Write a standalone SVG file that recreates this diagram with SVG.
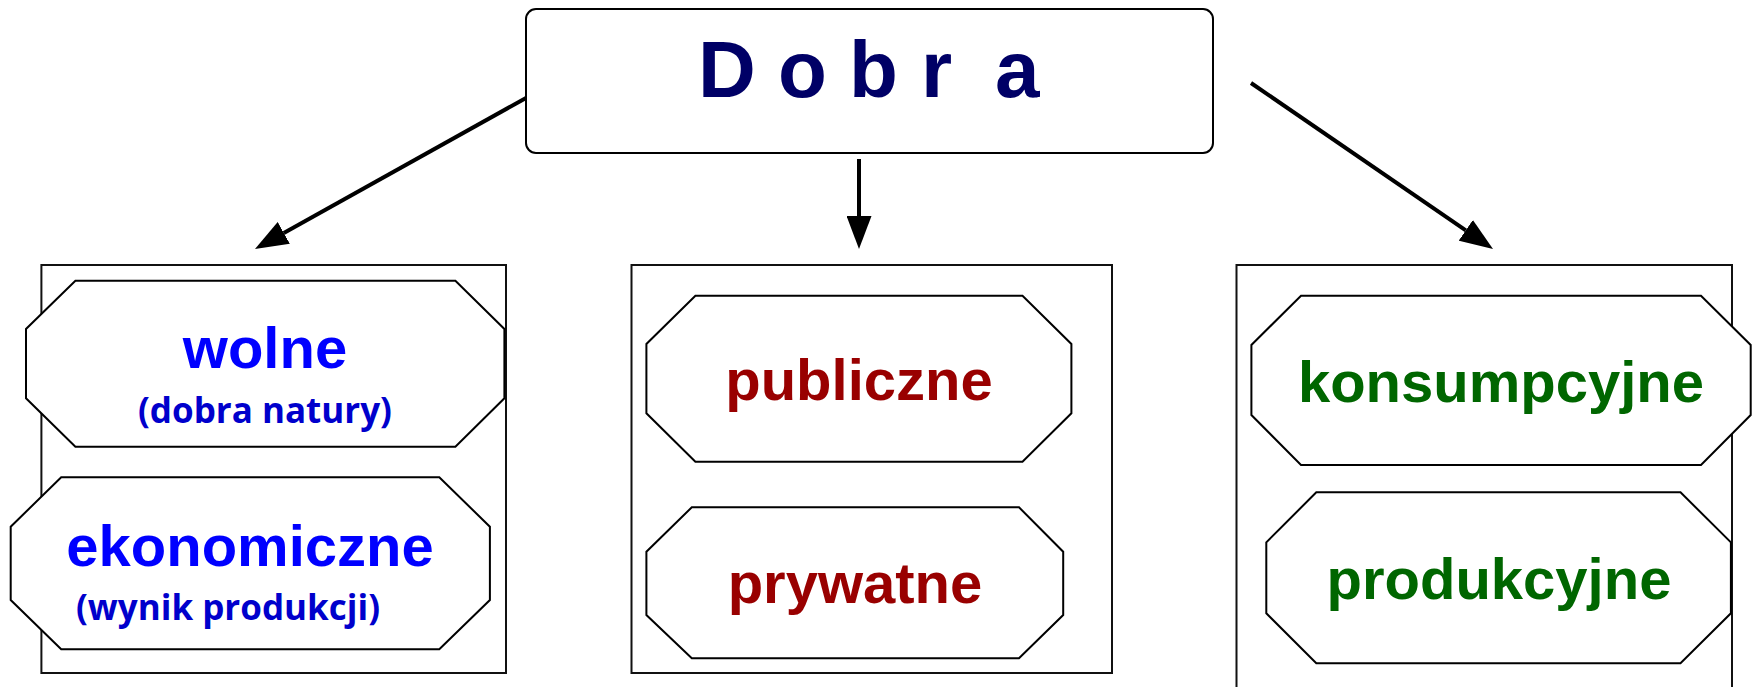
<svg xmlns="http://www.w3.org/2000/svg" width="1756" height="687" viewBox="0 0 1756 687">
<style>
.frame{fill:none;stroke:#111;stroke-width:2}
.oct{fill:#fff;stroke:#000;stroke-width:2}
.top{fill:#fff;stroke:#000;stroke-width:2}
.big{font-family:"Liberation Sans",Arial,sans-serif;font-weight:bold;font-size:58px;text-anchor:middle}
.small{font-family:"Open Sans","Noto Sans",sans-serif;font-weight:bold;font-size:35px;text-anchor:middle;fill:#0000cc}
.title{font-family:"Liberation Sans",Arial,sans-serif;font-weight:bold;font-size:80px;fill:#000066}
.blue{fill:#0000ff}
.red{fill:#990000}
.green{fill:#006600}
.conn{stroke:#000;stroke-width:4;fill:none;marker-end:url(#ah)}
</style>
<defs>
<marker id="ah" viewBox="0 0 33 25" refX="0" refY="12.5" markerWidth="33" markerHeight="25" markerUnits="userSpaceOnUse" orient="auto">
<path d="M0,0 L33,12.5 L0,25 z" fill="#000"/>
</marker>
</defs>
<rect width="1756" height="687" fill="#fff"/>

<g id="connectors">
<line class="conn" x1="526" y1="98" x2="283.8" y2="232.9"/>
<line class="conn" x1="859" y1="159" x2="859" y2="216"/>
<line class="conn" x1="1251" y1="83" x2="1465.8" y2="230.3"/>
</g>

<g id="dobra">
<rect class="top" x="526" y="9" width="687" height="144" rx="10"/>
<text class="title" x="698 778 849 921 995" y="97">Dobra</text>
</g>

<g id="group-wolne-ekonomiczne">
<rect class="frame" x="41.4" y="265" width="464.6" height="408"/>
<g id="wolne">
<polygon class="oct" points="75.4,280.7 455.4,280.7 504.4,329 504.4,398.3 455.4,446.7 75.4,446.7 26,398.3 26,329"/>
<text class="big blue" x="265" y="368">wolne</text>
<text class="small" x="265" y="423" textLength="254" lengthAdjust="spacingAndGlyphs">(dobra natury)</text>
</g>
<g id="ekonomiczne">
<polygon class="oct" points="61.2,477.3 439.3,477.3 489.9,526.7 489.9,600 439.3,649.3 61.2,649.3 10.7,600 10.7,526.7"/>
<text class="big blue" x="250" y="566">ekonomiczne</text>
<text class="small" x="228" y="620" textLength="304" lengthAdjust="spacingAndGlyphs">(wynik produkcji)</text>
</g>
</g>

<g id="group-publiczne-prywatne">
<rect class="frame" x="631.5" y="265" width="480.5" height="408"/>
<g id="publiczne">
<polygon class="oct" points="695.4,295.7 1022.5,295.7 1071.4,344 1071.4,413.3 1022.5,461.7 695.4,461.7 646.4,413.3 646.4,344"/>
<text class="big red" x="859" y="400">publiczne</text>
</g>
<g id="prywatne">
<polygon class="oct" points="691.8,507.3 1019,507.3 1063.2,551.7 1063.2,615 1019,658.3 691.8,658.3 646.4,615 646.4,551.7"/>
<text class="big red" x="855" y="603">prywatne</text>
</g>
</g>

<g id="group-konsumpcyjne-produkcyjne">
<rect class="frame" x="1236.5" y="265" width="495.5" height="440"/>
<g id="konsumpcyjne">
<polygon class="oct" points="1301,295.7 1701,295.7 1750.7,345 1750.7,415 1701,465 1301,465 1251.4,415 1251.4,345"/>
<text class="big green" x="1501" y="401.7">konsumpcyjne</text>
</g>
<g id="produkcyjne">
<polygon class="oct" points="1316.3,492.3 1680.5,492.3 1730.9,542.3 1730.9,613.3 1680.5,663.3 1316.3,663.3 1266.3,613.3 1266.3,542.3"/>
<text class="big green" x="1499" y="599">produkcyjne</text>
</g>
</g>
</svg>
